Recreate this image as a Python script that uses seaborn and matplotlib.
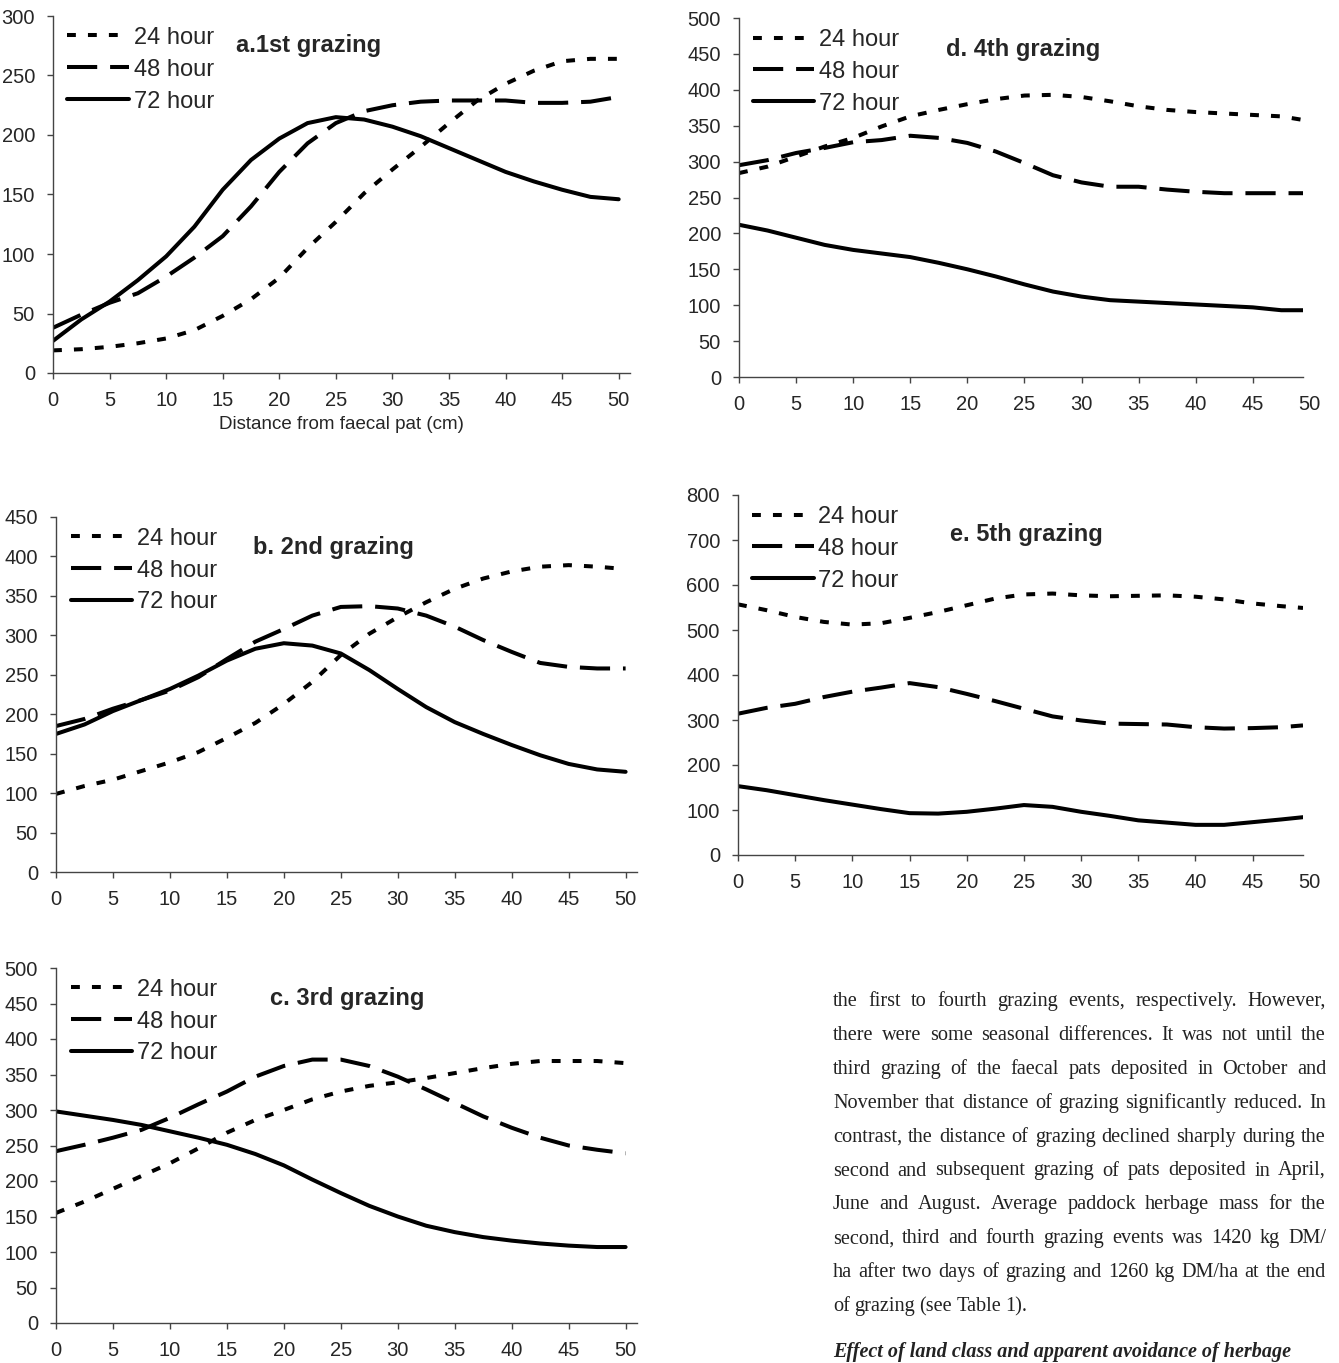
import numpy as np
import pandas as pd
import matplotlib
matplotlib.use("Agg")
import matplotlib.pyplot as plt
import seaborn as sns

# distance from faecal pat (cm)
dist = [0, 2.5, 5, 7.5, 10, 12.5, 15, 17.5, 20, 22.5, 25, 27.5, 30,
        32.5, 35, 37.5, 40, 42.5, 45, 47.5, 50]
dist_de = [0, 2.5, 5, 7.5, 10, 12.5, 15, 17.5, 20, 22.5, 25, 27.5, 30,
           32.5, 35, 37.5, 40, 42.5, 45, 47.5, 49.4]

series_names = ["24 hour", "48 hour", "72 hour"]

# a. 1st grazing
a_24 = [19, 20, 22, 25, 29, 36, 48, 62, 80, 105, 127, 151, 171, 190, 210, 229, 243, 254, 262, 264, 264]
a_48 = [38, 49, 59, 67, 81, 97, 115, 140, 169, 193, 210, 220, 225, 228, 229, 229, 229, 227, 227, 228, 232]
a_72 = [27, 45, 60, 78, 98, 123, 154, 179, 197, 210, 215, 213, 207, 199, 189, 179, 169, 161, 154, 148, 146]

# b. 2nd grazing
b_24 = [99, 109, 117, 128, 139, 152, 170, 189, 213, 241, 275, 302, 323, 342, 359, 372, 381, 387, 389, 387, 384]
b_48 = [185, 194, 207, 218, 230, 247, 270, 292, 308, 325, 336, 337, 334, 325, 311, 294, 279, 265, 260, 258, 258]
b_72 = [175, 187, 204, 218, 232, 249, 268, 283, 290, 287, 277, 256, 232, 209, 190, 175, 161, 148, 137, 130, 127]

# c. 3rd grazing
c_24 = [155, 171, 189, 207, 225, 246, 268, 286, 300, 315, 326, 334, 339, 345, 352, 359, 365, 369, 369, 369, 366]
c_48 = [242, 251, 261, 272, 289, 308, 326, 347, 362, 371, 371, 362, 347, 329, 310, 291, 275, 261, 250, 244, 239]
c_72 = [298, 292, 286, 279, 270, 261, 251, 238, 222, 202, 183, 165, 150, 137, 128, 121, 116, 112, 109, 107, 107]

# d. 4th grazing
d_24 = [284, 293, 307, 321, 333, 349, 363, 372, 380, 387, 392, 393, 390, 384, 377, 372, 369, 367, 365, 363, 358]
d_48 = [295, 302, 312, 319, 327, 330, 336, 333, 326, 314, 298, 281, 271, 265, 265, 261, 258, 256, 256, 256, 256]
d_72 = [212, 204, 194, 184, 177, 172, 167, 159, 150, 140, 129, 119, 112, 107, 105, 103, 101, 99, 97, 93, 93]

# e. 5th grazing
e_24 = [557, 544, 529, 518, 512, 515, 527, 540, 555, 570, 579, 581, 577, 575, 576, 577, 574, 568, 559, 553, 549]
e_48 = [314, 327, 336, 351, 363, 372, 382, 373, 358, 342, 325, 308, 299, 292, 291, 290, 284, 281, 282, 284, 288]
e_72 = [153, 144, 133, 122, 112, 102, 93, 92, 96, 103, 111, 107, 96, 87, 77, 72, 67, 67, 73, 79, 84]

W, H = 1339, 1363

sns.set_style("ticks")
plt.rcParams["font.family"] = ["Liberation Sans", "DejaVu Sans"]

fig = plt.figure(figsize=(W / 100, H / 100), dpi=100)


def make_axes(left, right, top, bottom):
    return fig.add_axes([left / W, 1 - bottom / H, (right - left) / W, (bottom - top) / H])


def long_table(x, s24, s48, s72):
    frames = []
    for name, vals in zip(series_names, [s24, s48, s72]):
        frames.append(pd.DataFrame({"distance": x, "value": vals, "series": name}))
    return pd.concat(frames, ignore_index=True)


dash_styles = {"24 hour": (2.2, 3.0), "48 hour": (7.5, 3.2), "72 hour": ""}

panels = [
    # title, x, data, ymax, ystep, box(left,right,top,bottom), xmax, title pos
    ("a.1st grazing", dist, (a_24, a_48, a_72), 300, 50, (53, 630, 16, 373), 51, (0.317, 0.916)),
    ("d. 4th grazing", dist_de, (d_24, d_48, d_72), 500, 50, (739, 1303, 18, 377), 49.4, (0.367, 0.911)),
    ("b. 2nd grazing", dist, (b_24, b_48, b_72), 450, 50, (56, 637, 517, 872), 51, (0.339, 0.913)),
    ("e. 5th grazing", dist_de, (e_24, e_48, e_72), 800, 100, (738, 1303, 495, 855), 49.4, (0.375, 0.889)),
    ("c. 3rd grazing", dist, (c_24, c_48, c_72), 500, 50, (56, 637, 968, 1323), 51, (0.368, 0.915)),
]

for title, x, data, ymax, ystep, box, xmax, tpos in panels:
    ax = make_axes(*box)
    df = long_table(x, *data)
    sns.lineplot(data=df, x="distance", y="value", style="series", dashes=dash_styles,
                 color="black", linewidth=2.9, ax=ax, legend=True)
    ax.set_xlim(0, xmax)
    ax.set_ylim(0, ymax)
    ax.set_xticks(np.arange(0, min(xmax, 50) + 0.01, 5))
    ax.set_yticks(np.arange(0, ymax + 1, ystep))
    ax.tick_params(labelsize=14.5, length=4, width=1, color="#444444", pad=9)
    sns.despine(ax=ax)
    for sp in ["left", "bottom"]:
        ax.spines[sp].set_color("#444444")
        ax.spines[sp].set_linewidth(1.0)
    ax.set_xlabel("")
    ax.set_ylabel("")
    if xmax < 50:
        ax.annotate("50", xy=(50, 0), xycoords=("data", "axes fraction"),
                    xytext=(0, -13), textcoords="offset points", ha="center", va="top",
                    fontsize=14.5, annotation_clip=False)
    handles, labels = ax.get_legend_handles_labels()
    ax.legend(handles, labels, loc="upper left", bbox_to_anchor=(0.025, 0.97),
              frameon=False, fontsize=17, handlelength=2.6, handletextpad=0.2,
              labelspacing=0.42, borderpad=0, borderaxespad=0)
    ax.text(tpos[0], tpos[1], title, transform=ax.transAxes, fontsize=17,
            fontweight="bold", ha="left", va="center")
    if title.startswith("a."):
        ax.set_xlabel("Distance from faecal pat (cm)", fontsize=13.5, labelpad=4)

# body text (justified by hand)
body_lines = [
    "the first to fourth grazing events, respectively. However,",
    "there were some seasonal differences. It was not until the",
    "third grazing of the faecal pats deposited in October and",
    "November that distance of grazing significantly reduced. In",
    "contrast, the distance of grazing declined sharply during the",
    "second and subsequent grazing of pats deposited in April,",
    "June and August. Average paddock herbage mass for the",
    "second, third and fourth grazing events was 1420 kg DM/",
    "ha after two days of grazing and 1260 kg DM/ha at the end",
    "of grazing (see Table 1).",
]
heading = "Effect of land class and apparent avoidance of herbage"

renderer = fig.canvas.get_renderer()
x0, x1 = 833, 1326
base0, step = 1006, 33.9
for i, line in enumerate(body_lines):
    yb = 1 - (base0 + i * step) / H
    words = line.split(" ")
    texts = [fig.text(0, yb, w, fontsize=14.6, family="Liberation Serif",
                      color="#222222", va="baseline") for w in words]
    widths = [t.get_window_extent(renderer).width for t in texts]
    if i < len(body_lines) - 1:
        gap = (x1 - x0 - sum(widths)) / (len(words) - 1)
    else:
        gap = texts[0].get_fontsize() * 0.3
    xp = x0
    for t, w in zip(texts, widths):
        t.set_x(xp / W)
        xp += w + gap

fig.text(x0 / W, 1 - 1357 / H, heading, fontsize=14.5,
         family="Liberation Serif", fontweight="bold", fontstyle="italic",
         color="#222222", va="baseline")

fig.savefig("out.png", dpi=100)
